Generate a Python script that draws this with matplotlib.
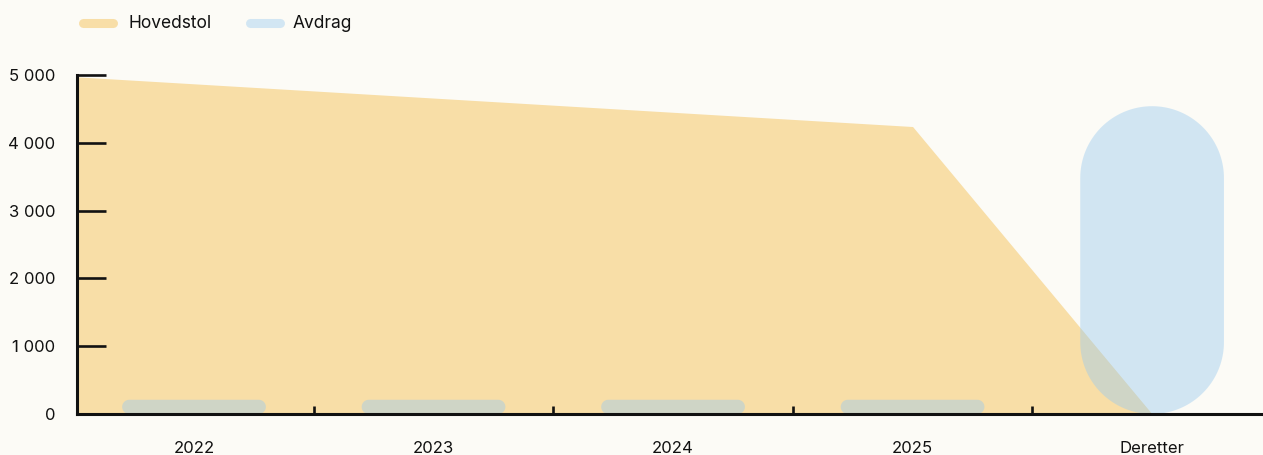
import matplotlib
matplotlib.use("Agg")
import matplotlib.pyplot as plt
from matplotlib.patches import Polygon
from matplotlib.lines import Line2D
import numpy as np

# Loan balance (Hovedstol) and repayments (Avdrag) per period
categories = ["2022", "2023", "2024", "2025", "Deretter"]
hovedstol = [4870, 4660, 4450, 4240, 0]
avdrag = [210, 210, 210, 210, 4540]
y_ticks = [0, 1000, 2000, 3000, 4000, 5000]
y_tick_labels = ["0", "1 000", "2 000", "3 000", "4 000", "5 000"]

BG = "#FCFBF6"
YELLOW = "#F8DEA7"
BLUE = "#9ACAEF"
BLUE_ALPHA = 0.43
BLUE_SOLID = "#D2E6F3"
INK = "#111111"

plt.rcParams["font.family"] = ["Inter", "DejaVu Sans"]

W, H, DPI = 1263, 455, 100
fig = plt.figure(figsize=(W / DPI, H / DPI), dpi=DPI, facecolor=BG)
ax_left, ax_bottom, ax_w, ax_h = 77, 41, W - 77, 339
ax = fig.add_axes([ax_left / W, ax_bottom / H, ax_w / W, ax_h / H])
ax.set_facecolor(BG)

x = np.arange(len(categories))
xlim = (-0.4885, 4.463)
ylim = (0, 5000)
ax.set_xlim(*xlim)
ax.set_ylim(*ylim)

# Balance area, continued linearly to the left edge of the axes
slope = hovedstol[1] - hovedstol[0]
left_val = hovedstol[0] + slope * (xlim[0] - x[0])
area_x = np.concatenate([[xlim[0]], x])
area_y = np.concatenate([[left_val], hovedstol])
ax.fill_between(area_x, area_y, 0, color=YELLOW, lw=0, zorder=1)

# Pill-shaped repayment bars: corners are circular in pixel space
bar_w = 0.6
px_per_x = ax_w / (xlim[1] - xlim[0])
px_per_y = ax_h / (ylim[1] - ylim[0])


def pill(xc, width, height, n=40):
    wpx, hpx = width * px_per_x, height * px_per_y
    r = min(wpx, hpx) / 2
    hx, hy = wpx / 2 - r, hpx / 2 - r
    pts = []
    for cx, cy, a0 in [(hx, hy, 0), (-hx, hy, 90), (-hx, -hy, 180), (hx, -hy, 270)]:
        t = np.radians(np.linspace(a0, a0 + 90, n))
        pts.append(np.column_stack([cx + r * np.cos(t), cy + r * np.sin(t)]))
    pts = np.vstack(pts)
    return np.column_stack([xc + pts[:, 0] / px_per_x,
                            height / 2 + pts[:, 1] / px_per_y])


for xi, val in zip(x, avdrag):
    ax.add_patch(Polygon(pill(xi, bar_w, val), closed=True, facecolor=BLUE,
                         alpha=BLUE_ALPHA, lw=0, zorder=2))

# Axes styling
for side in ("top", "right"):
    ax.spines[side].set_visible(False)
for side in ("left", "bottom"):
    ax.spines[side].set_linewidth(2.2)
    ax.spines[side].set_color(INK)
    ax.spines[side].set_zorder(5)

ax.set_yticks(y_ticks, y_tick_labels)
ax.tick_params(axis="y", direction="in", length=21, width=1.9, pad=15.5,
               labelsize=12, color=INK, labelcolor=INK)

ax.set_xticks(x[:-1] + 0.5, [""] * (len(x) - 1))
ax.set_xticks(x, categories, minor=True)
ax.tick_params(axis="x", which="major", direction="in", length=5.5, width=1.9,
               color=INK)
ax.tick_params(axis="x", which="minor", length=0, pad=19.5, labelsize=12,
               labelcolor=INK)

# Legend
leg_y = 1 - 23.3 / H
for (x0, x1), color, label, tx in [
    ((82.5, 112.5), YELLOW, "Hovedstol", 128),
    ((249.5, 279.5), BLUE_SOLID, "Avdrag", 293),
]:
    fig.add_artist(Line2D([x0 / W, x1 / W], [leg_y, leg_y],
                          transform=fig.transFigure, lw=6.5, color=color,
                          solid_capstyle="round"))
    fig.text(tx / W, leg_y, label, ha="left", va="center", fontsize=12.5,
             color=INK)

fig.savefig("out.png", dpi=DPI, facecolor=BG)
